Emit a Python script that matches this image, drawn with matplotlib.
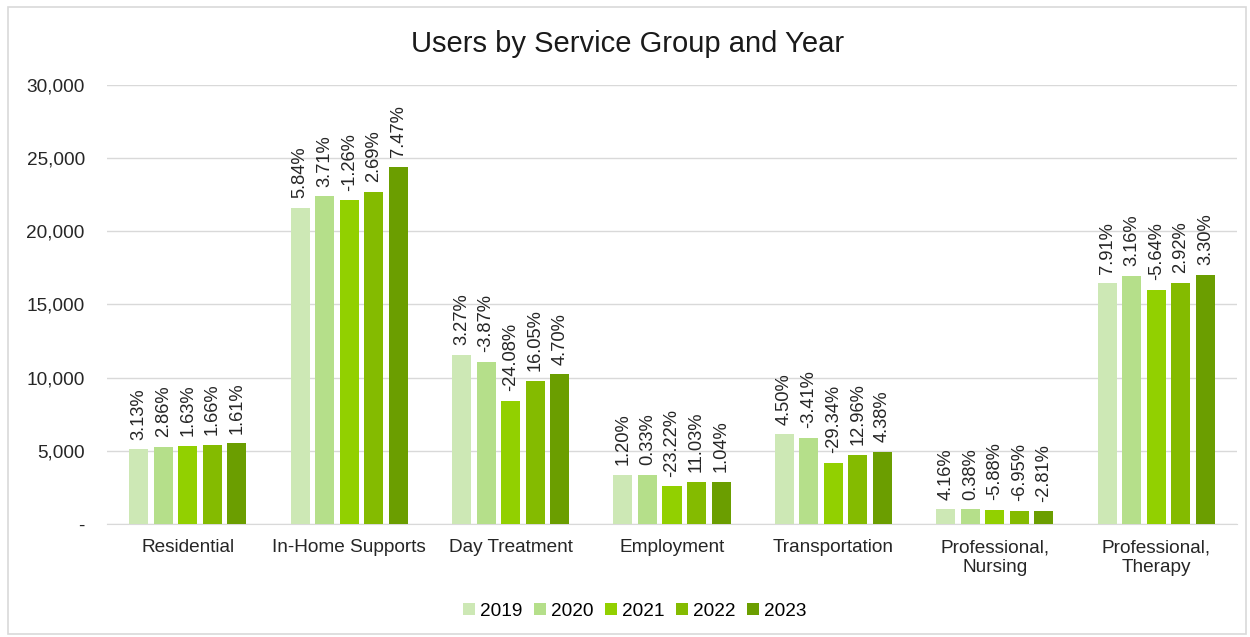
import matplotlib.pyplot as plt
import numpy as np
from matplotlib.patches import Rectangle

plt.rcParams['font.family'] = ['Liberation Sans', 'DejaVu Sans']

categories = ['Residential', 'In-Home Supports', 'Day Treatment', 'Employment',
              'Transportation', 'Professional,\nNursing', 'Professional,\nTherapy']
years = ['2019', '2020', '2021', '2022', '2023']
colors = ['#cde8b5', '#b5df8a', '#92d000', '#84bb00', '#6b9e00']

users_2019 = [5105, 21615, 11549, 3348, 6128, 1003, 16450]
users_2020 = [5250, 22390, 11100, 3360, 5910, 1007, 16970]
users_2021 = [5335, 22110, 8420, 2580, 4170, 947, 16020]
users_2022 = [5425, 22700, 9770, 2865, 4715, 882, 16480]
users_2023 = [5510, 24400, 10230, 2895, 4950, 857, 17020]
users = [users_2019, users_2020, users_2021, users_2022, users_2023]

pct_2019 = ['3.13%', '5.84%', '3.27%', '1.20%', '4.50%', '4.16%', '7.91%']
pct_2020 = ['2.86%', '3.71%', '-3.87%', '0.33%', '-3.41%', '0.38%', '3.16%']
pct_2021 = ['1.63%', '-1.26%', '-24.08%', '-23.22%', '-29.34%', '-5.88%', '-5.64%']
pct_2022 = ['1.66%', '2.69%', '16.05%', '11.03%', '12.96%', '-6.95%', '2.92%']
pct_2023 = ['1.61%', '7.47%', '4.70%', '1.04%', '4.38%', '-2.81%', '3.30%']
pcts = [pct_2019, pct_2020, pct_2021, pct_2022, pct_2023]

fig = plt.figure(figsize=(12.5, 6.37), dpi=100)
ax = fig.add_axes([0.0856, 0.1774, 0.904, 0.6892])

# light border around the whole chart
fig.patches.append(Rectangle((0.0065, 0.005), 0.99, 0.984, transform=fig.transFigure,
                             fill=False, edgecolor='#d9d9d9', linewidth=1.2))

x = np.arange(len(categories))
step = 0.152
width = 0.118
for i, (vals, lbls) in enumerate(zip(users, pcts)):
    pos = x + (i - 2) * step
    bars = ax.bar(pos, vals, width, color=colors[i], label=years[i], zorder=3)
    for b, lbl in zip(bars, lbls):
        ax.annotate(lbl, (b.get_x() + b.get_width() / 2, b.get_height()),
                    xytext=(0, 7), textcoords='offset points', rotation=90,
                    ha='center', va='bottom', fontsize=13.2, color='#262626')

ax.set_xlim(-0.5, len(categories) - 0.5)
ax.set_ylim(0, 30000)
ax.set_yticks(np.arange(0, 30001, 5000))
ax.set_yticklabels(['-'] + [f'{v:,}' for v in range(5000, 30001, 5000)])
ax.set_xticks(x)
ax.set_xticklabels(categories)
ax.tick_params(axis='both', length=0, labelsize=13.7, colors='#262626')
ax.tick_params(axis='y', pad=16)
ax.tick_params(axis='x', pad=11)
ax.grid(axis='y', color='#d9d9d9', linewidth=1, zorder=0)
for s in ['top', 'right', 'left']:
    ax.spines[s].set_visible(False)
ax.spines['bottom'].set_color('#d9d9d9')

# title is centred on the whole chart, not on the plot area
ax.set_title('Users by Service Group and Year', fontsize=21, color='#1a1a1a',
             pad=24, x=0.461)
fig.legend(loc='lower center', bbox_to_anchor=(0.508, 0.0), ncol=5, frameon=False,
           fontsize=13.7, handlelength=0.6, handleheight=0.6, handletextpad=0.3,
           columnspacing=0.6)

fig.savefig('out.png', dpi=100)
